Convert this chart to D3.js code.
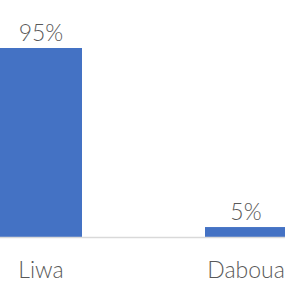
<!DOCTYPE html>
<html lang="en">
<head>
    <meta charset="UTF-8">
    <title>Liwa vs Daboua</title>
    <style>
        body { margin: 0; background: #fff; }
        text { font-family: Lato, "Open Sans", sans-serif; font-weight: 300; fill: #595959; }
    </style>
</head>
<body>
<script src="https://d3js.org/d3.v7.min.js"></script>
<script>

  // chart data
  var categories = ["Liwa", "Daboua"];
  var shares = [95, 5];
  var valueLabels = ["95%", "5%"];

  var width = 285, height = 288;
  var baseline = 237, topY = 48;

  var data = categories.map(function(c, i) {
    return {cat: c, value: shares[i], label: valueLabels[i]};
  });

  var x = d3.scaleBand()
          .domain(categories)
          .range([0, 287])
          .paddingInner(0.6)
          .paddingOuter(0);
  var y = d3.scaleLinear()
          .domain([0, 95])
          .range([baseline, topY]);

  var svg = d3.select("body").append("svg")
          .attr("width", width)
          .attr("height", height);

  // bars
  svg.selectAll(".bar")
          .data(data)
          .enter().append("rect")
          .attr("class", "bar")
          .attr("x", function(d) { return x(d.cat); })
          .attr("width", x.bandwidth())
          .attr("y", function(d) { return y(d.value); })
          .attr("height", function(d) { return baseline - y(d.value); })
          .style("fill", "#4472c4");

  // value labels
  svg.selectAll(".val")
          .data(data)
          .enter().append("text")
          .attr("x", function(d) { return x(d.cat) + x.bandwidth() / 2; })
          .attr("y", function(d) { return y(d.value) - 7; })
          .attr("text-anchor", "middle")
          .style("font-size", "23px")
          .text(function(d) { return d.label; });

  // x axis
  var xAxis = svg.append("g")
          .attr("transform", "translate(0," + baseline + ")")
          .call(d3.axisBottom(x).tickSize(0).tickPadding(0));
  xAxis.select(".domain").remove();
  xAxis.append("line")
          .attr("x1", 0).attr("x2", width)
          .attr("y1", 0.5).attr("y2", 0.5)
          .attr("stroke", "#d9d9d9")
          .attr("stroke-width", 1.5);
  xAxis.selectAll(".tick text")
          .attr("dy", null)
          .attr("y", 41)
          .style("font-size", "23px")
          .style("font-family", "Lato, 'Open Sans', sans-serif")
          .style("fill", "#595959");

</script>
</body>
</html>
